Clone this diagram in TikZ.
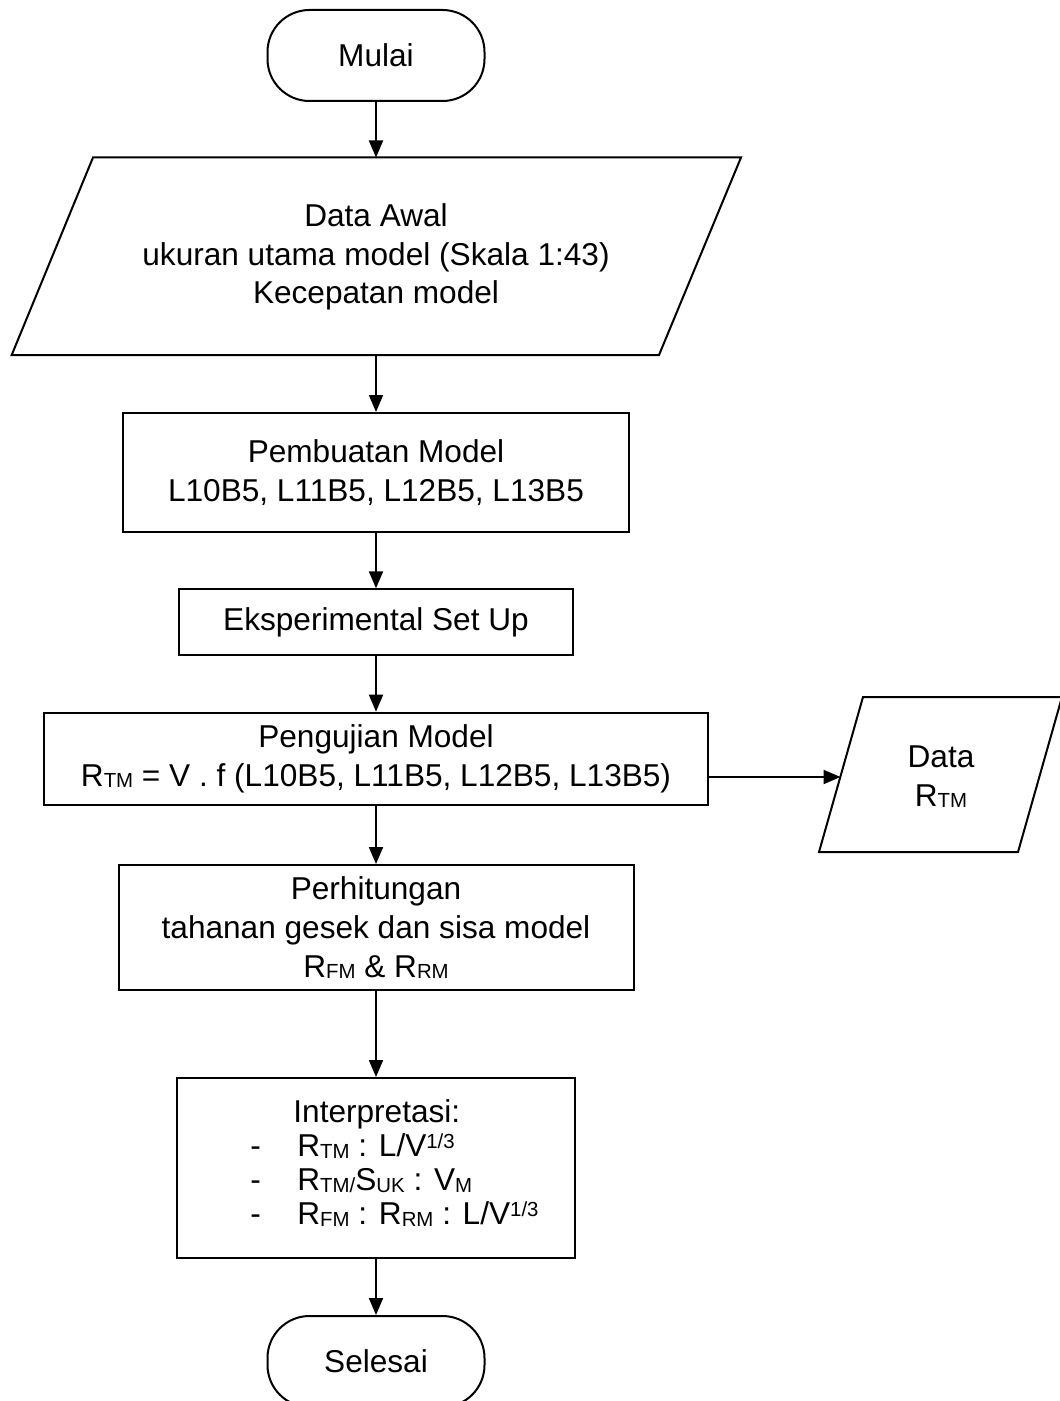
\documentclass[tikz,border=0pt]{standalone}
\usepackage{fontspec}
\setmainfont{Liberation Sans}
\usetikzlibrary{arrows.meta}
\newcommand\sbs[1]{\raisebox{-0.6pt}{\fontsize{10.2}{10}\selectfont #1}}
\newcommand\sps[1]{\raisebox{4pt}{\fontsize{10.2}{10}\selectfont #1}}
\begin{document}
\begin{tikzpicture}[x=0.5pt,y=-0.5pt,
  every node/.style={font=\fontsize{15.8}{19.4}\selectfont},
  term/.style={draw, line width=1pt, rounded corners=21pt, minimum width=108.5pt, minimum height=45.5pt, inner sep=0pt},
  proc/.style={draw, line width=1pt, align=center, inner sep=0pt},
  txt/.style={align=center, inner sep=0pt},
  io/.style={line width=1pt, line join=miter},
  arr/.style={line width=1pt, -{Triangle[length=8.5pt,width=7pt]}}
]
\useasboundingbox (0,0) rectangle (1059,1401);

% start
\node[term] (mulai) at (376,55.5) {Mulai};

% input data
\draw[io] (93,157.5) -- (741,157.5) -- (659,355) -- (11.7,355) -- cycle;
\coordinate (daT) at (376,157.5);
\coordinate (daB) at (376,355);
\node[txt] (da) at (376,257) {Data Awal\\ukuran utama model (Skala 1:43)\\Kecepatan model};

% process boxes
\node[proc, minimum width=253pt, minimum height=59.3pt] (pm) at (376,472.3)
  {Pembuatan Model\\L10B5, L11B5, L12B5, L13B5};
\node[proc, minimum width=197pt, minimum height=33pt] (es) at (376,622.3)
  {Eksperimental Set Up};
\node[proc, minimum width=332pt, minimum height=46.2pt] (pj) at (376,758.9)
  {Pengujian Model\\R\sbs{TM} = V . f (L10B5, L11B5, L12B5, L13B5)};
\node[proc, minimum width=257.5pt, minimum height=62.5pt] (ph) at (376,927.5)
  {Perhitungan\\tahanan gesek dan sisa model\\R\sbs{FM} \& R\sbs{RM}};
\node[draw, line width=1pt, inner sep=0pt, minimum width=199pt, minimum height=90pt] (it) at (376,1168) {};
\node[inner sep=0pt, align=left, anchor=west, font=\fontsize{15.8}{17}\selectfont] (itx) at (250,1163)
  {\makebox[21.5pt][l]{}Interpretasi:\\
   \makebox[23.5pt][l]{-}R\sbs{TM} : L/V\sps{1/3}\\
   \makebox[23.5pt][l]{-}R\sbs{TM/}S\sbs{UK} : V\sbs{M}\\
   \makebox[23.5pt][l]{-}R\sbs{FM} : R\sbs{RM} : L/V\sps{1/3}};

% end
\node[term] (se) at (376,1361.5) {Selesai};

% output data
\draw[io] (863,697) -- (1062,697) -- (1018,852) -- (819,852) -- cycle;
\coordinate (dtL) at (840.5,777);
\node[txt] (dt) at (941,777) {Data\\R\sbs{TM}};

% connectors
\draw[arr] (mulai) -- (daT);
\draw[arr] (daB) -- (pm);
\draw[arr] (pm) -- (es);
\draw[arr] (es) -- (pj);
\draw[arr] (pj) -- (ph);
\draw[arr] (ph) -- (it);
\draw[arr] (it) -- (se);
\draw[arr] (pj.east |- dtL) -- (dtL);
\end{tikzpicture}
\end{document}
